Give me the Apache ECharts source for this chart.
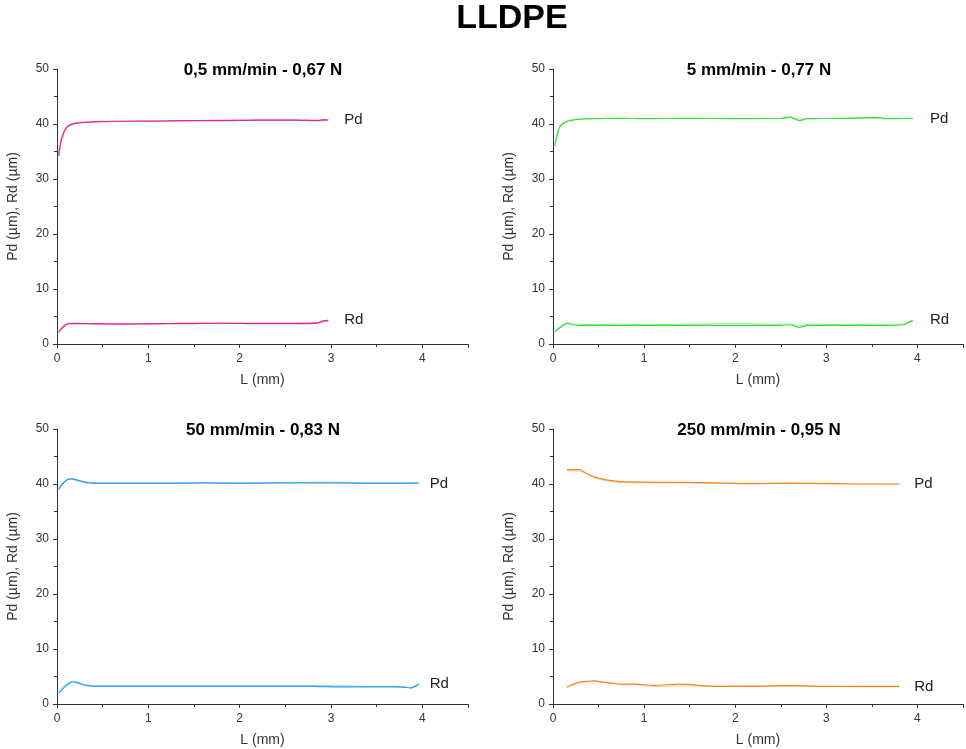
<!DOCTYPE html>
<html>
<head>
<meta charset="utf-8">
<script src="https://cdn.jsdelivr.net/npm/echarts@6/dist/echarts.min.js"></script>
<style>
  html, body { margin: 0; padding: 0; background: #fff; }
  #chart { width: 966px; height: 749px; }
</style>
</head>
<body>
<div id="chart"></div>
<script>
// panel titles
var panelTitles = ['0,5 mm/min - 0,67 N', '5 mm/min - 0,77 N', '50 mm/min - 0,83 N', '250 mm/min - 0,95 N'];

// 0,5 mm/min
var L1   = [0.02, 0.04, 0.07, 0.10, 0.14, 0.20, 0.30, 0.45, 0.70, 1.00, 1.40, 1.80, 2.20, 2.60, 2.85, 2.92, 2.97];
var pd1a = [34.2, 36.5, 38.2, 39.2, 39.8, 40.1, 40.3, 40.4, 40.5, 40.5, 40.6, 40.6, 40.7, 40.7, 40.6, 40.8, 40.7];
var pd1b = [34.6, 36.9, 38.5, 39.4, 39.9, 40.2, 40.3, 40.5, 40.5, 40.6, 40.6, 40.7, 40.7, 40.7, 40.7, 40.6, 40.8];
var rd1a = [2.1, 2.6, 3.1, 3.5, 3.7, 3.7, 3.7, 3.7, 3.6, 3.7, 3.7, 3.8, 3.7, 3.7, 3.8, 4.2, 4.3];
var rd1b = [2.3, 2.8, 3.3, 3.6, 3.8, 3.8, 3.7, 3.6, 3.7, 3.6, 3.8, 3.7, 3.8, 3.8, 3.9, 4.1, 4.2];

// 5 mm/min
var L2   = [0.02, 0.05, 0.08, 0.12, 0.16, 0.22, 0.30, 0.45, 0.70, 1.00, 1.50, 2.00, 2.50, 2.60, 2.70, 2.80, 3.20, 3.55, 3.65, 3.85, 3.90, 3.95];
var pd2a = [36.0, 38.3, 39.6, 40.2, 40.5, 40.7, 40.9, 41.0, 41.0, 41.0, 41.0, 41.0, 41.0, 41.3, 40.6, 41.0, 41.0, 41.2, 41.0, 41.0, 41.0, 41.0];
var pd2b = [36.3, 38.6, 39.8, 40.3, 40.6, 40.8, 40.9, 40.9, 41.1, 40.9, 41.1, 40.9, 41.0, 41.1, 40.9, 40.9, 41.1, 41.0, 40.9, 41.0, 41.1, 41.0];
var rd2a = [2.2, 2.6, 3.0, 3.5, 3.8, 3.5, 3.4, 3.4, 3.4, 3.4, 3.4, 3.4, 3.4, 3.5, 3.0, 3.4, 3.4, 3.4, 3.4, 3.5, 3.9, 4.3];
var rd2b = [2.3, 2.8, 3.2, 3.6, 3.7, 3.6, 3.6, 3.5, 3.6, 3.5, 3.6, 3.7, 3.6, 3.6, 3.3, 3.6, 3.5, 3.6, 3.6, 3.6, 4.0, 4.4];

// 50 mm/min
var L3   = [0.02, 0.05, 0.09, 0.13, 0.17, 0.22, 0.28, 0.35, 0.50, 0.80, 1.20, 1.60, 2.00, 2.40, 2.80, 3.10, 3.40, 3.70, 3.82, 3.88, 3.93, 3.96];
var pd3a = [39.0, 39.8, 40.5, 40.9, 40.9, 40.7, 40.4, 40.2, 40.1, 40.1, 40.1, 40.2, 40.1, 40.2, 40.2, 40.2, 40.1, 40.1, 40.1, 40.1, 40.2, 40.1];
var pd3b = [39.2, 40.0, 40.6, 41.0, 41.0, 40.8, 40.5, 40.3, 40.2, 40.2, 40.2, 40.2, 40.2, 40.2, 40.3, 40.3, 40.2, 40.2, 40.2, 40.2, 40.2, 40.2];
var rd3a = [2.0, 2.5, 3.2, 3.7, 4.0, 3.9, 3.5, 3.3, 3.2, 3.2, 3.2, 3.2, 3.2, 3.2, 3.2, 3.1, 3.1, 3.1, 3.0, 2.9, 3.3, 3.6];
var rd3b = [2.5, 2.9, 3.5, 3.9, 4.1, 4.0, 3.7, 3.4, 3.3, 3.3, 3.3, 3.3, 3.3, 3.3, 3.3, 3.3, 3.2, 3.2, 3.1, 3.0, 3.4, 3.7];

// 250 mm/min
var L4   = [0.15, 0.22, 0.29, 0.36, 0.45, 0.55, 0.65, 0.75, 0.90, 1.10, 1.40, 1.80, 2.20, 2.60, 3.00, 3.40, 3.80];
var pd4a = [42.6, 42.6, 42.6, 42.0, 41.3, 40.9, 40.6, 40.4, 40.4, 40.3, 40.3, 40.2, 40.1, 40.1, 40.1, 40.0, 40.0];
var pd4b = [42.4, 42.4, 42.4, 41.9, 41.2, 40.7, 40.4, 40.3, 40.2, 40.2, 40.2, 40.1, 40.0, 40.2, 40.0, 40.0, 39.9];
var rd4a = [3.1, 3.6, 4.0, 4.1, 4.2, 4.0, 3.8, 3.6, 3.6, 3.4, 3.6, 3.2, 3.2, 3.4, 3.2, 3.2, 3.2];
var rd4b = [3.0, 3.4, 3.8, 4.0, 4.1, 3.9, 3.7, 3.5, 3.5, 3.2, 3.3, 3.2, 3.3, 3.2, 3.2, 3.1, 3.1];

var yTicks = [0, 10, 20, 30, 40, 50];

var panels = [
    { L: L1, pd: [pd1a, pd1b], rd: [rd1a, rd1b], colors: ['#dc2a8a', '#f27ab8'], gap: 16 },
    { L: L2, pd: [pd2a, pd2b], rd: [rd2a, rd2b], colors: ['#3ddc3d', '#98ee98'], gap: 17 },
    { L: L3, pd: [pd3a, pd3b], rd: [rd3a, rd3b], colors: ['#2f9fe6', '#8ccbf2'], gap: 11 },
    { L: L4, pd: [pd4a, pd4b], rd: [rd4a, rd4b], colors: ['#ee8a2a', '#f8c890'], gap: 15 }
];

// grid boxes (left, top) for the 2x2 layout
var boxes = [[57, 69], [553, 69], [57, 429], [553, 429]];

function pairs(xs, ys) {
    return xs.map(function (x, i) { return [x, ys[i]]; });
}

var myChart = echarts.init(document.getElementById('chart'));

var titles = [{
    text: 'LLDPE',
    left: 507, top: -3, textAlign: 'center',
    textStyle: { fontFamily: 'Liberation Sans', fontSize: 34, fontWeight: 'bold', color: '#000' }
}];
var grids = [], xAxes = [], yAxes = [], series = [];

panels.forEach(function (p, k) {
    var b = boxes[k];
    titles.push({
        text: panelTitles[k],
        left: b[0] + 201, top: b[1] - 12, textAlign: 'center',
        textStyle: { fontFamily: 'Liberation Sans', fontSize: 17, fontWeight: 'bold', color: '#000' }
    });
    grids.push({ left: b[0], top: b[1], width: 411, height: 275 });
    xAxes.push({
        gridIndex: k, type: 'value', min: 0, max: 4.5, interval: 1,
        name: 'L (mm)', nameLocation: 'middle', nameGap: 29,
        nameTextStyle: { fontFamily: 'Liberation Sans', fontSize: 14, color: '#333' },
        axisLine: { lineStyle: { color: '#333', width: 1 } },
        axisTick: { length: 4, lineStyle: { color: '#333' } },
        minorTick: { show: true, splitNumber: 2, length: 3, lineStyle: { color: '#333' } },
        axisLabel: {
            fontFamily: 'Liberation Sans', fontSize: 12, color: '#333', margin: 9,
            formatter: function (v) { return Number.isInteger(v) ? String(v) : ''; }
        },
        splitLine: { show: false }
    });
    yAxes.push({
        gridIndex: k, type: 'value', min: yTicks[0], max: yTicks[yTicks.length - 1], interval: 10,
        name: 'Pd (µm), Rd (µm)', nameLocation: 'middle', nameGap: 37,
        nameTextStyle: { fontFamily: 'Liberation Sans', fontSize: 14, color: '#333' },
        axisLine: { show: true, lineStyle: { color: '#333', width: 1 } },
        axisTick: { show: true, length: 4, lineStyle: { color: '#333' } },
        minorTick: { show: true, splitNumber: 2, length: 3, lineStyle: { color: '#333' } },
        axisLabel: { fontFamily: 'Liberation Sans', fontSize: 12, color: '#333', margin: 8 },
        splitLine: { show: false }
    });

    [['Pd', p.pd], ['Rd', p.rd]].forEach(function (q) {
        q[1].forEach(function (vals, r) {
            series.push({
                type: 'line', xAxisIndex: k, yAxisIndex: k,
                name: q[0] + ' ' + (r + 1),
                data: pairs(p.L, vals),
                showSymbol: false, smooth: 0.3, silent: true,
                z: r === 0 ? 3 : 2,
                lineStyle: { color: p.colors[r], width: r === 0 ? 1.2 : 1 },
                endLabel: r === 0 ? {
                    show: true, formatter: q[0], distance: p.gap,
                    fontFamily: 'Liberation Sans', fontSize: 15, color: '#222'
                } : { show: false }
            });
        });
    });
});

var option = {
    backgroundColor: '#fff',
    animation: false,
    title: titles,
    grid: grids,
    xAxis: xAxes,
    yAxis: yAxes,
    series: series
};

myChart.setOption(option);
</script>
</body>
</html>
